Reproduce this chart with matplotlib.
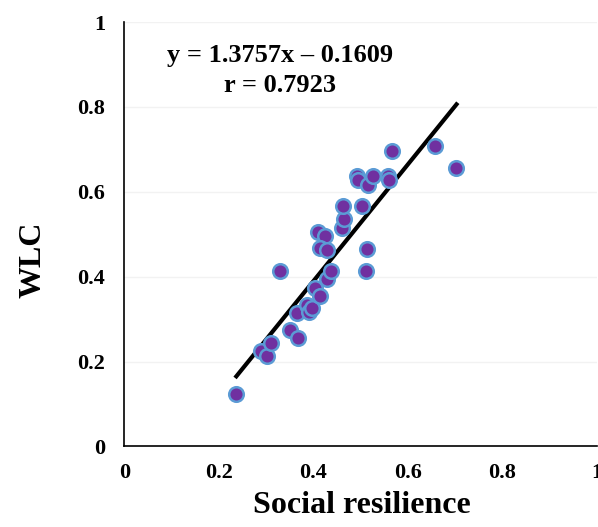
import numpy as np
import matplotlib
matplotlib.use('Agg')
import matplotlib.pyplot as plt

# data
social = [0.237, 0.290, 0.302, 0.310, 0.329, 0.350, 0.368, 0.366, 0.386, 0.391,
          0.398, 0.403, 0.414, 0.428, 0.437, 0.409, 0.425, 0.414, 0.428, 0.460,
          0.465, 0.462, 0.502, 0.513, 0.512, 0.493, 0.494, 0.515, 0.527, 0.558,
          0.560, 0.567, 0.657, 0.703]
wlc = [0.123, 0.224, 0.213, 0.243, 0.414, 0.275, 0.255, 0.314, 0.334, 0.316,
       0.325, 0.373, 0.354, 0.395, 0.414, 0.505, 0.496, 0.467, 0.464, 0.514,
       0.537, 0.567, 0.566, 0.466, 0.414, 0.637, 0.627, 0.615, 0.637, 0.637,
       0.627, 0.697, 0.708, 0.657]
slope = 1.3757
intercept = -0.1609
r_val = 0.7923

plt.rcParams['font.family'] = 'Liberation Serif'
plt.rcParams['font.weight'] = 'bold'

fig = plt.figure(figsize=(5.98, 5.27), dpi=100)
ax = fig.add_axes([0.208, 0.153, 0.79, 0.805])

ax.scatter(social, wlc, s=110, c='#7030A0', edgecolors='#5B9BD5', linewidths=1.8, zorder=3)

xs = np.array([min(social), max(social)])
ax.plot(xs, slope*xs + intercept, color='black', lw=3, zorder=2)

ax.set_xlim(0, 1)
ax.set_ylim(0, 1)
ticks = [0, 0.2, 0.4, 0.6, 0.8, 1]
labels = ['0', '0.2', '0.4', '0.6', '0.8', '1']
ax.set_xticks(ticks)
ax.set_xticklabels(labels)
ax.set_yticks(ticks)
ax.set_yticklabels(labels)
ax.tick_params(length=0, labelsize=16)
ax.tick_params(axis='x', pad=12)
ax.tick_params(axis='y', pad=14)
for t in ax.get_xticklabels() + ax.get_yticklabels():
    t.set_fontweight('bold')

ax.grid(axis='y', color='#F2F2F2', lw=1)
ax.set_axisbelow(True)
for s in ['top', 'right']:
    ax.spines[s].set_visible(False)
ax.spines['left'].set_linewidth(1.2)
ax.spines['bottom'].set_linewidth(1.2)

ax.set_xlabel('Social resilience', fontsize=23, fontweight='bold')
ax.xaxis.set_label_coords(0.503, -0.105)
ax.set_ylabel('WLC', fontsize=23, fontweight='bold')
ax.yaxis.set_label_coords(-0.163, 0.44)

ax.text(0.33, 0.922, 'y = %.4fx \u2013 %.4f' % (slope, -intercept), ha='center', va='center',
        fontsize=19, fontweight='bold')
ax.text(0.33, 0.850, 'r = %.4f' % r_val, ha='center', va='center',
        fontsize=19, fontweight='bold')

fig.savefig('out.png', dpi=100)
